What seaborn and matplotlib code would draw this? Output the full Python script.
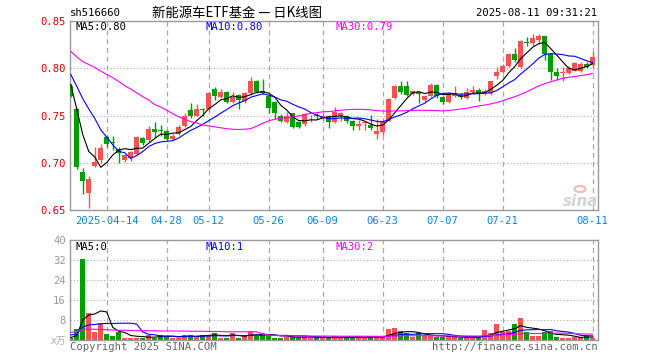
import numpy as np
import pandas as pd
import matplotlib
matplotlib.use("Agg")
import matplotlib.pyplot as plt
import seaborn as sns

# ---- data (one entry per trading day, 2025-04-03 .. 2025-08-11) ----
tick_pos = [6, 16, 23, 33, 42, 52, 62, 72, 87]
tick_labels = ["2025-04-14", "04-28", "05-12", "05-26", "06-09",
               "06-23", "07-07", "07-21", "08-11"]

opens = [0.781, 0.757, 0.690, 0.668, 0.697, 0.703, 0.727, 0.7215, 0.7145, 0.703,
         0.705, 0.709, 0.7266, 0.724, 0.736, 0.7345, 0.734, 0.7255, 0.7307, 0.739,
         0.7555, 0.750, 0.757, 0.757, 0.778, 0.770, 0.775, 0.764, 0.772, 0.765,
         0.774, 0.787, 0.776, 0.771, 0.764, 0.750, 0.7434, 0.7524, 0.743, 0.741,
         0.749, 0.751, 0.747, 0.7497, 0.7434, 0.749, 0.7497, 0.7445, 0.7393, 0.742,
         0.740, 0.7307, 0.7324, 0.7445, 0.768, 0.7807, 0.7807, 0.773, 0.775, 0.766,
         0.771, 0.7826, 0.770, 0.7642, 0.7705, 0.7712, 0.7687, 0.7747, 0.7767, 0.7735,
         0.7733, 0.792, 0.7958, 0.8024, 0.815, 0.8017, 0.8275, 0.8267, 0.8302, 0.8337,
         0.815, 0.7965, 0.7955, 0.7948, 0.7976, 0.7976, 0.805, 0.8035]
highs = [0.783, 0.758, 0.694, 0.686, 0.717, 0.720, 0.729, 0.728, 0.717, 0.709,
         0.712, 0.728, 0.727, 0.739, 0.743, 0.740, 0.735, 0.730, 0.740, 0.753,
         0.763, 0.762, 0.758, 0.775, 0.780, 0.778, 0.776, 0.775, 0.773, 0.775,
         0.791, 0.788, 0.789, 0.772, 0.765, 0.752, 0.754, 0.753, 0.744, 0.753,
         0.751, 0.753, 0.753, 0.751, 0.759, 0.754, 0.751, 0.745, 0.745, 0.744,
         0.751, 0.746, 0.745, 0.769, 0.782, 0.787, 0.786, 0.777, 0.776, 0.772,
         0.784, 0.783, 0.771, 0.775, 0.781, 0.7733, 0.779, 0.781, 0.779, 0.778,
         0.787, 0.801, 0.8045, 0.8163, 0.821, 0.830, 0.833, 0.8365, 0.8365, 0.834,
         0.816, 0.800, 0.801, 0.802, 0.807, 0.807, 0.807, 0.817]
lows = [0.770, 0.693, 0.667, 0.652, 0.696, 0.700, 0.717, 0.714, 0.700, 0.701,
        0.702, 0.708, 0.719, 0.722, 0.727, 0.728, 0.723, 0.724, 0.729, 0.738,
        0.747, 0.749, 0.749, 0.755, 0.766, 0.769, 0.763, 0.763, 0.757, 0.763,
        0.772, 0.774, 0.773, 0.753, 0.746, 0.743, 0.742, 0.737, 0.737, 0.739,
        0.743, 0.746, 0.745, 0.737, 0.742, 0.744, 0.742, 0.735, 0.735, 0.735,
        0.735, 0.7255, 0.7297, 0.744, 0.767, 0.773, 0.771, 0.772, 0.763, 0.764,
        0.770, 0.769, 0.762, 0.763, 0.770, 0.767, 0.767, 0.773, 0.765, 0.772,
        0.772, 0.7885, 0.795, 0.801, 0.807, 0.800, 0.824, 0.824, 0.826, 0.809,
        0.788, 0.788, 0.786, 0.794, 0.797, 0.796, 0.800, 0.801]
closes = [0.771, 0.695, 0.681, 0.683, 0.701, 0.716, 0.720, 0.7205, 0.710, 0.708,
          0.711, 0.727, 0.7214, 0.736, 0.733, 0.734, 0.7255, 0.728, 0.738, 0.750,
          0.750, 0.757, 0.7555, 0.774, 0.771, 0.775, 0.764, 0.770, 0.766, 0.774,
          0.787, 0.775, 0.774, 0.758, 0.753, 0.7445, 0.7497, 0.738, 0.738, 0.7514,
          0.750, 0.749, 0.749, 0.7434, 0.7538, 0.7524, 0.7445, 0.7393, 0.741, 0.743,
          0.737, 0.734, 0.7445, 0.7676, 0.781, 0.7745, 0.772, 0.7755, 0.773, 0.771,
          0.7826, 0.7705, 0.764, 0.774, 0.7733, 0.7695, 0.7747, 0.7774, 0.7733, 0.776,
          0.7868, 0.7965, 0.8024, 0.8146, 0.8087, 0.8288, 0.8265, 0.8323, 0.8337, 0.815,
          0.7965, 0.792, 0.7965, 0.800, 0.806, 0.805, 0.8017, 0.812]
# volume, x万
volumes = [1.0, 4.4, 32.4, 11.0, 3.3, 7.0, 2.4, 1.6, 3.2, 0.9,
           0.9, 0.9, 0.9, 2.0, 1.0, 2.2, 1.5, 1.0, 1.0, 1.9,
           2.0, 1.3, 2.0, 2.0, 2.9, 1.0, 1.0, 3.0, 1.0, 1.6,
           3.1, 1.7, 2.9, 1.7, 1.0, 1.0, 1.4, 1.1, 1.0, 1.4,
           1.0, 0.9, 0.9, 1.0, 1.5, 0.9, 1.4, 0.9, 1.4, 0.9,
           1.7, 1.1, 1.1, 4.4, 4.9, 3.6, 2.7, 1.1, 2.7, 1.8,
           1.8, 1.1, 1.1, 1.5, 1.1, 0.9, 1.1, 1.1, 0.9, 4.0,
           2.7, 6.4, 3.4, 3.6, 6.4, 8.8, 3.1, 1.8, 1.8, 3.1,
           3.6, 1.1, 0.9, 0.9, 1.1, 1.1, 1.8, 0.9]

# moving averages at the left edge depend on days before the window
ma5_head = [0.783, 0.757, 0.730, 0.712]
ma10_head = [0.7935, 0.781, 0.768, 0.757, 0.747, 0.735, 0.727, 0.719, 0.712]
ma30_head = [0.818, 0.812, 0.807, 0.804, 0.801, 0.797, 0.7935, 0.790, 0.786, 0.7815,
             0.778, 0.774, 0.770, 0.7665, 0.7615, 0.759, 0.7555, 0.752, 0.7485, 0.746,
             0.7435, 0.742, 0.740, 0.739, 0.738, 0.737, 0.736, 0.7355, 0.7352]
vma5_head = [1.0, 1.7, 8.0, 10.0]
vma10_head = [2.0, 2.3, 5.2, 6.0, 6.2, 6.5, 6.6, 6.6, 6.7]
vma30_head = [3.1, 3.3, 4.3, 4.4, 4.3, 4.2, 4.1, 4.0, 3.9, 3.9,
              3.8, 3.8, 3.7, 3.7, 3.7, 3.6, 3.6, 3.6, 3.6, 3.6,
              3.5, 3.5, 3.5, 3.4, 3.4, 3.4, 3.3, 3.3, 3.3]

# legend captions as printed on the chart
price_legend = ["MA5:0.80", "MA10:0.80", "MA30:0.79"]
vol_legend = ["MA5:0", "MA10:1", "MA30:2"]

RED = "#fa5252"
GREEN = "#009f00"
GRID = "#aaaaaa"
FRAME = "#999999"
MA_COLORS = ["black", "#0000ff", "#ff00ff"]


def moving_avg(values, n, head):
    out = pd.Series(values).rolling(n).mean().to_numpy()
    out[:n - 1] = head
    return out


df = pd.DataFrame({"open": opens, "high": highs, "low": lows,
                   "close": closes, "vol": volumes})
df["idx"] = np.arange(len(df))
df["up"] = df["close"] >= df["open"]
df["color"] = np.where(df["up"], RED, GREEN)
df["ma5"] = moving_avg(closes, 5, ma5_head)
df["ma10"] = moving_avg(closes, 10, ma10_head)
df["ma30"] = moving_avg(closes, 30, ma30_head)
df["vma5"] = moving_avg(volumes, 5, vma5_head)
df["vma10"] = moving_avg(volumes, 10, vma10_head)
df["vma30"] = moving_avg(volumes, 30, vma30_head)

sns.set_style("white")
plt.rcParams["font.family"] = ["DejaVu Sans Mono", "Noto Sans CJK SC"]

W, H = 660, 360
fig = plt.figure(figsize=(W / 100, H / 100), dpi=100)


def px_axes(x0, y0, x1, y1):
    return fig.add_axes([x0 / W, 1 - y1 / H, (x1 - x0) / W, (y1 - y0) / H])


ax = px_axes(70, 21, 597.7, 210)
axv = px_axes(70, 240, 597.7, 340)

xlim = (-0.12, 87.83)
for a in (ax, axv):
    a.set_xlim(*xlim)
    for s in a.spines.values():
        s.set_color(FRAME)
        s.set_linewidth(1.0)
    for p in tick_pos:
        a.axvline(p, color=GRID, lw=0.9, ls=(0, (4, 3)), zorder=0)
    a.tick_params(length=0)

# ---- price panel ----
ax.set_ylim(0.65, 0.85)
for yv in [0.70, 0.75, 0.80]:
    ax.axhline(yv, color=GRID, lw=0.8, ls=(0, (1, 2)), zorder=0)

ax.vlines(df["idx"], df["low"], df["high"], colors=df["color"], lw=1.0, zorder=2)
body_lo = df[["open", "close"]].min(axis=1)
body_h = (df["close"] - df["open"]).abs().clip(lower=0.0008)
ax.bar(df["idx"], body_h, bottom=body_lo, width=0.78, color=df["color"],
       linewidth=0, zorder=3)

for col, c in zip(["ma5", "ma10", "ma30"], MA_COLORS):
    sns.lineplot(data=df, x="idx", y=col, ax=ax, color=c, lw=0.8, zorder=4)

ax.set_yticks([0.65, 0.70, 0.75, 0.80, 0.85])
ax.set_yticklabels([f"{v:.2f}" for v in [0.65, 0.70, 0.75, 0.80, 0.85]],
                   color="#e00000", fontsize=7.6)
ax.set_xticks(tick_pos)
ax.set_xticklabels(tick_labels, color="#0a86d8", fontsize=7.6)
ax.tick_params(axis="y", pad=3)
ax.tick_params(axis="x", pad=4)
ax.set_xlabel("")
ax.set_ylabel("")

# ---- volume panel ----
axv.set_ylim(0, 40)
for yv in [8, 16, 24, 32]:
    axv.axhline(yv, color=GRID, lw=0.8, ls=(0, (1, 2)), zorder=0)
axv.bar(df["idx"], df["vol"], width=0.82, color=df["color"], linewidth=0, zorder=2)
for col, c in zip(["vma5", "vma10", "vma30"], MA_COLORS):
    sns.lineplot(data=df, x="idx", y=col, ax=axv, color=c, lw=0.8, zorder=4)
axv.set_yticks([8, 16, 24, 32, 40])
axv.set_yticklabels(["8", "16", "24", "32", "40"], color="#999999", fontsize=7.6)
axv.tick_params(axis="y", pad=3)
axv.set_xticks([])
axv.set_xlabel("")
axv.set_ylabel("")


def ptext(x, y, s, **kw):
    fig.text(x / W, 1 - y / H, s, va="center", **kw)


fs = 7.6
ptext(70, 13, "sh516660", color="black", fontsize=fs)
ptext(237, 13, "新能源车ETF基金 — 日K线图", ha="center", color="black",
      fontsize=9.6, family=["Noto Sans CJK SC", "DejaVu Sans"])
ptext(597, 13, "2025-08-11 09:31:21", ha="right", color="black", fontsize=fs)

for x, s, c in zip([75, 205, 335], price_legend, MA_COLORS):
    ptext(x, 26.5, s, color=c, fontsize=fs)
for x, s, c in zip([75, 205, 335], vol_legend, MA_COLORS):
    ptext(x, 246.5, s, color=c, fontsize=fs)

ptext(66, 341, "x万", ha="right", color="#aaaaaa", fontsize=7,
      family=["DejaVu Sans", "Noto Sans CJK SC"], style="italic")
ptext(70, 346.5, "Copyright 2025 SINA.COM", color="#666666", fontsize=fs)
ptext(597.7, 346.5, "http://finance.sina.com.cn", ha="right", color="#666666", fontsize=fs)

# faded sina watermark
ptext(581, 201, "sina", ha="center", color="#d4d4d4", fontsize=11,
      family="DejaVu Sans", weight="bold", style="italic")
fig.patches.append(plt.Circle((580 / W, 1 - 189 / H), 5.5 / W, transform=fig.transFigure,
                              facecolor="none", edgecolor="#f2bcbc", lw=1.6))

fig.savefig("out.png", dpi=100, facecolor="white")
